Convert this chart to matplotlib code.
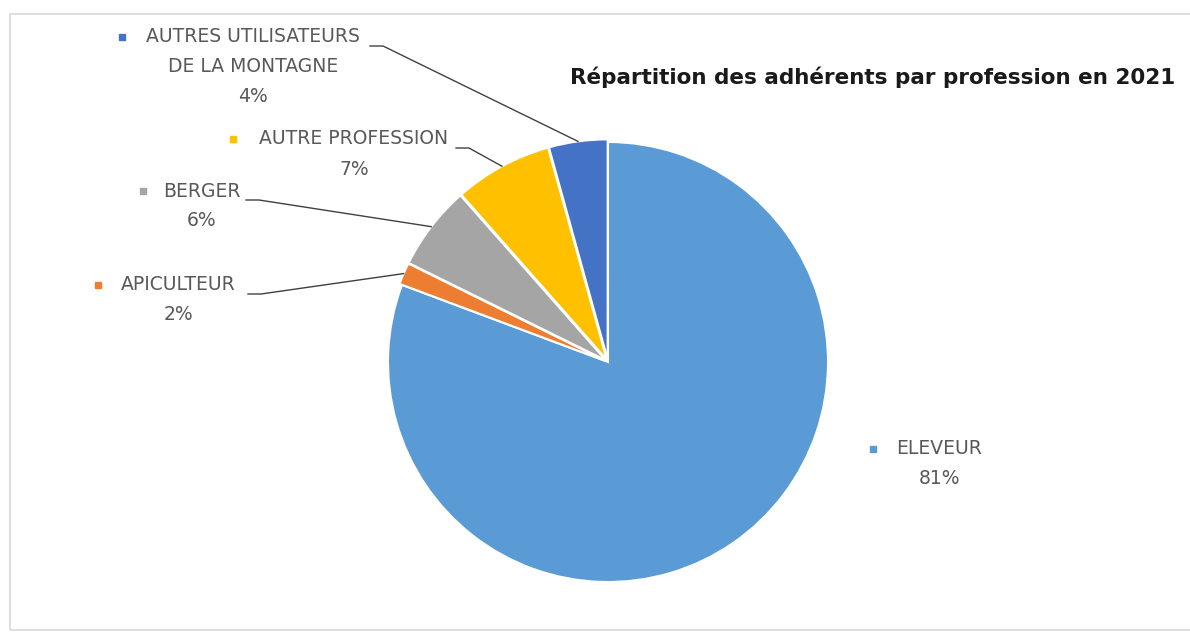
import numpy as np
import matplotlib
matplotlib.use("Agg")
import matplotlib.pyplot as plt
from matplotlib.lines import Line2D
from matplotlib.patches import Rectangle

# data (share of members, %)
categories = ["ELEVEUR", "APICULTEUR", "BERGER", "AUTRE PROFESSION",
              "AUTRES UTILISATEURS\nDE LA MONTAGNE"]
shares = [80.7, 1.6, 6.2, 7.2, 4.3]
colors = ["#5B9BD5", "#ED7D31", "#A5A5A5", "#FFC000", "#4472C4"]
title = "Répartition des adhérents par profession en 2021"

W, H = 1190, 637
TXT = "#595959"


def fx(x):
  return x / W

def fy(y):
  # y measured from top, in pixels
  return 1 - y / H


def main():
  fig = plt.figure(figsize=(W / 100, H / 100), dpi=100)

  # light frame around the chart area
  fig.patches.append(Rectangle((fx(10), fy(630)), fx(1200) - fx(10), fy(14) - fy(630),
                               transform=fig.transFigure, fill=False,
                               edgecolor="#D9D9D9", linewidth=1.2))

  # pie centre at (608, 362) px, radius 220 px
  cx, cy, r = 608, 362, 220
  ax = fig.add_axes([fx(cx - r), fy(cy + r), 2 * r / W, 2 * r / H])
  explode = [0, 0.012, 0.012, 0.012, 0.012]
  wedges, _ = ax.pie(shares, colors=colors, startangle=90, counterclock=False,
                     explode=explode, radius=1.0,
                     wedgeprops=dict(edgecolor="white", linewidth=1.5))
  ax.set_xlim(-1, 1)
  ax.set_ylim(-1, 1)
  ax.set_aspect("auto")
  ax.axis("off")
  for w in wedges:
    w.set_clip_on(False)

  fig.text(fx(873), fy(77), title, ha="center", va="center",
           fontsize=15.5, fontweight="bold", color="#1A1A1A")

  # label layout: text centre x, first line y, marker x, leader start x (None = no leader)
  layout = {
    "ELEVEUR": (939, 449, 873, None),
    "APICULTEUR": (178, 285, 98, 248),
    "BERGER": (202, 191, 143, 246),
    "AUTRE PROFESSION": (354, 139, 233, 456),
    "AUTRES UTILISATEURS\nDE LA MONTAGNE": (253, 37, 122, 370),
  }
  line_h = 30

  for w, name, share, col in zip(wedges, categories, shares, colors):
    tx, ty, mx, lx = layout[name]
    lines = name.split("\n")
    for i, ln in enumerate(lines):
      fig.text(fx(tx), fy(ty + i * line_h), ln, ha="center", va="center",
               fontsize=13.5, color=TXT)
    fig.text(fx(tx), fy(ty + len(lines) * line_h), f"{share:.0f}%",
             ha="center", va="center", fontsize=13.5, color=TXT)
    fig.lines.append(Line2D([fx(mx)], [fy(ty)], transform=fig.transFigure,
                            marker="s", markersize=4.5, color=col, linestyle="none"))

    if lx is not None:
      # leader line to the middle of the wedge's outer edge
      mid = np.deg2rad((w.theta1 + w.theta2) / 2)
      ex, ey = w.center[0] + 1.0 * np.cos(mid), w.center[1] + 1.0 * np.sin(mid)
      px, py = ax.transData.transform((ex, ey))
      px, py = px / (W), py / (H)
      ly = fy(ty + 9)
      fig.lines.append(Line2D([fx(lx), fx(lx + 13), px], [ly, ly, py],
                              transform=fig.transFigure, color="#404040", linewidth=1))

  fig.savefig("out.png", dpi=100, facecolor="white")


if __name__ == '__main__':
  main()
